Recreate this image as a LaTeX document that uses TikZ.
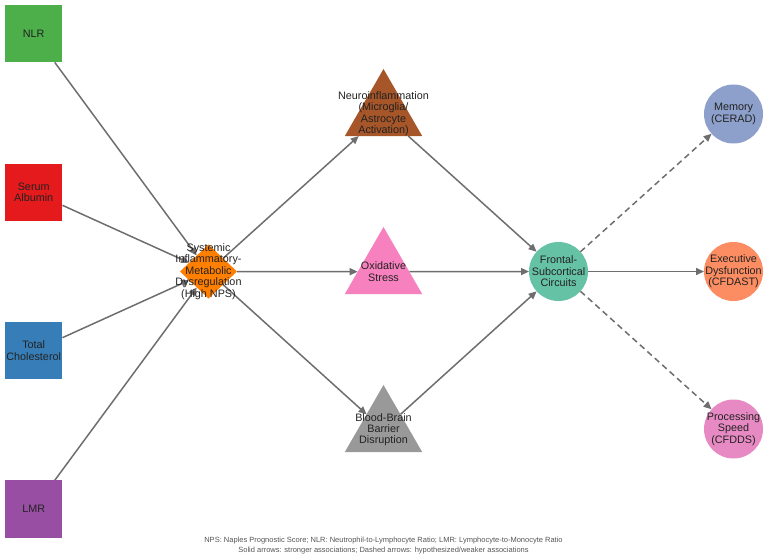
\documentclass[tikz,border=0pt]{standalone}
\usepackage{fontspec}
\setmainfont{Liberation Sans}
\usetikzlibrary{shapes.geometric,arrows.meta,backgrounds}
\definecolor{cNLR}{HTML}{4DAF4A}
\definecolor{cALB}{HTML}{E41A1C}
\definecolor{cCHO}{HTML}{377EB8}
\definecolor{cLMR}{HTML}{984EA3}
\definecolor{cSYS}{HTML}{FF7F00}
\definecolor{cNEU}{HTML}{A65628}
\definecolor{cOXI}{HTML}{F781BF}
\definecolor{cBBB}{HTML}{999999}
\definecolor{cFSC}{HTML}{66C2A5}
\definecolor{cMEM}{HTML}{8DA0CB}
\definecolor{cEXE}{HTML}{FC8D62}
\definecolor{cPRO}{HTML}{E78AC3}
\definecolor{cEdge}{HTML}{6E6E6E}
\definecolor{cTxt}{HTML}{222222}
\definecolor{cFoot}{HTML}{555555}
\tikzset{
  shp/.style={draw=none, inner sep=0pt, outer sep=0pt, fill=#1},
  lbl/.style={align=center, text=cTxt, font=\fontsize{10.8}{11.4}\selectfont, inner sep=0pt},
  sqbox/.style={shp=#1, rectangle, minimum size=57.5pt},
  tribox/.style={shp=#1, regular polygon, regular polygon sides=3, minimum size=89.4pt},
  circbox/.style={shp=#1, circle, minimum size=59pt},
  diabox/.style={shp=#1, diamond, minimum width=57pt, minimum height=54pt},
  edge/.style={draw=cEdge, line width=1.5pt, -{Triangle[length=8pt,width=7pt]}},
  dedge/.style={edge, dash pattern=on 6pt off 4pt},
  foot/.style={text=cFoot, font=\fontsize{7.5}{10}\selectfont, align=center, inner sep=0pt}
}
\begin{document}
\begin{tikzpicture}[x=1pt,y=-1pt]
\useasboundingbox (0,0) rectangle (767,559);
% inputs
\node[sqbox=cNLR, label={[lbl]center:NLR}] (nlr) at (33.7,33.7) {};
\node[sqbox=cALB, label={[lbl]center:Serum\\Albumin}] (alb) at (33.7,192.3) {};
\node[sqbox=cCHO, label={[lbl]center:Total\\Cholesterol}] (cho) at (33.7,350.7) {};
\node[sqbox=cLMR, label={[lbl]center:LMR}] (lmr) at (33.7,509) {};
% hub
\node[diabox=cSYS] (sys) at (208.5,271.5) {};
% mechanisms
\node[tribox=cNEU] (neu) at (383.5,113.7) {};
\node[tribox=cOXI] (oxi) at (383.5,271.7) {};
\node[tribox=cBBB] (bbb) at (383.5,429.7) {};
% circuits
\node[circbox=cFSC] (fsc) at (558.5,271.5) {};
% outcomes
\node[circbox=cMEM] (mem) at (733.5,114) {};
\node[circbox=cEXE] (exe) at (733.5,271.5) {};
\node[circbox=cPRO] (pro) at (733.5,429) {};
% edges
\begin{scope}[on background layer]
\draw[edge] (nlr) -- (sys);
\draw[edge] (alb) -- (sys);
\draw[edge] (cho) -- (sys);
\draw[edge] (lmr) -- (sys);
\draw[edge] (sys) -- (neu);
\draw[edge] (sys) -- (oxi);
\draw[edge] (sys) -- (bbb);
\draw[edge] (neu) -- (fsc);
\draw[edge] (oxi) -- (fsc);
\draw[edge] (bbb) -- (fsc);
\draw[dedge] (fsc) -- (mem);
\draw[edge] (fsc) -- (exe);
\draw[dedge] (fsc) -- (pro);
\end{scope}
% labels
\node[lbl] (tsys) at (sys.center) {Systemic\\Inflammatory-\\Metabolic\\Dysregulation\\(High NPS)};
\node[lbl] (tneu) at (neu.center) {Neuroinflammation\\(Microglia/\\Astrocyte\\Activation)};
\node[lbl] (toxi) at (oxi.center) {Oxidative\\Stress};
\node[lbl] (tbbb) at (bbb.center) {Blood-Brain\\Barrier\\Disruption};
\node[lbl] (tfsc) at (fsc.center) {Frontal-\\Subcortical\\Circuits};
\node[lbl] (tmem) at (mem.center) {Memory\\(CERAD)};
\node[lbl] (texe) at (exe.center) {Executive\\Dysfunction\\(CFDAST)};
\node[lbl] (tpro) at (pro.center) {Processing\\Speed\\(CFDDS)};
% footer
\node[foot] (footer) at (383.5,546) {NPS: Naples Prognostic Score; NLR: Neutrophil-to-Lymphocyte Ratio; LMR: Lymphocyte-to-Monocyte Ratio\\Solid arrows: stronger associations; Dashed arrows: hypothesized/weaker associations};
\end{tikzpicture}
\end{document}
